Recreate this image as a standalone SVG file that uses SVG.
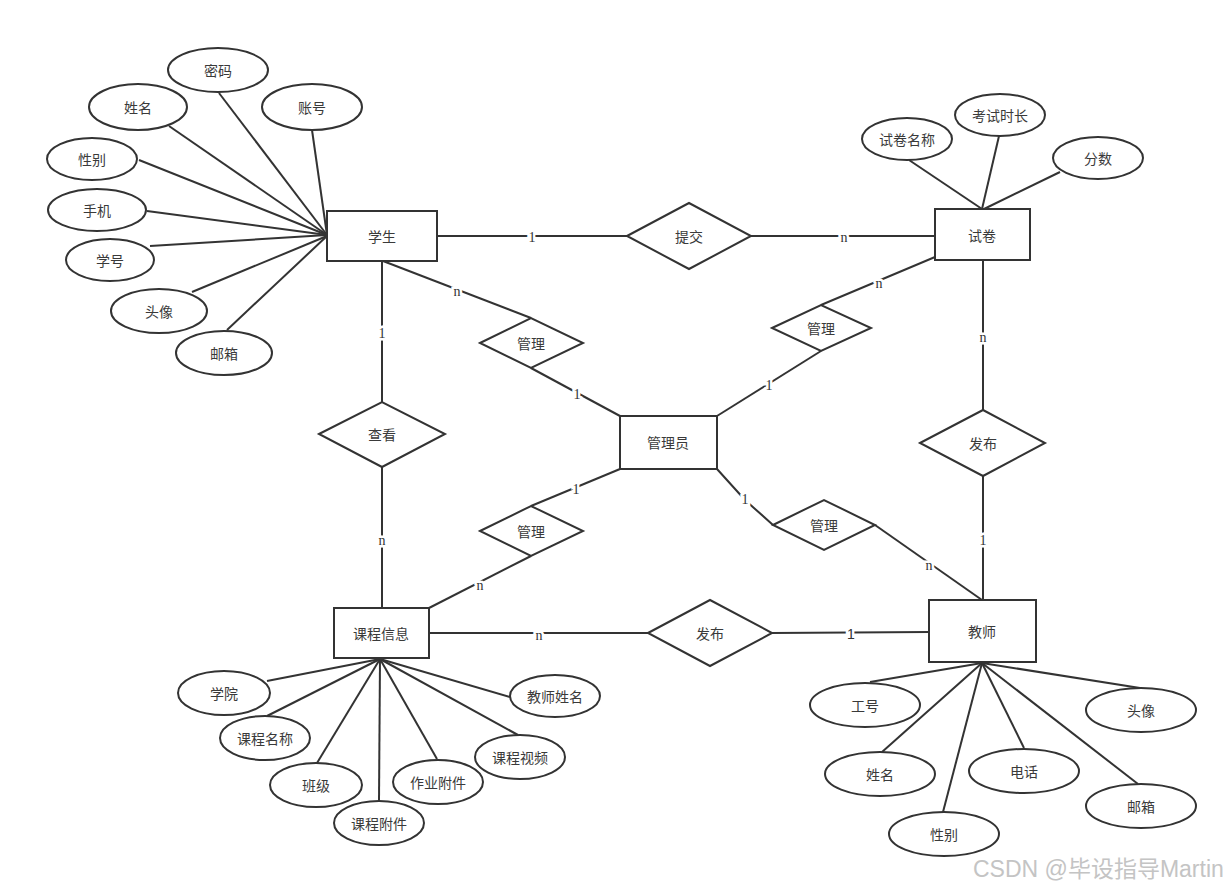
<svg xmlns="http://www.w3.org/2000/svg" width="1228" height="888" viewBox="0 0 1228 888">
<style>
.s{fill:#fff;stroke:#333;stroke-width:2}
.l{stroke:#333;stroke-width:2;fill:none}
.t{font-family:"Noto Sans CJK SC","Liberation Sans",sans-serif;font-size:14px;fill:#3a3a3a;text-anchor:middle;dominant-baseline:central}
.c{font-family:"Liberation Serif",serif;font-size:14px;fill:#333;text-anchor:middle;dominant-baseline:central;stroke:#fff;stroke-width:5;paint-order:stroke}
.c2{font-family:"Liberation Sans",sans-serif;font-size:14px;fill:#333;text-anchor:middle;dominant-baseline:central;stroke:#fff;stroke-width:5;paint-order:stroke}
</style>
<rect width="1228" height="888" fill="#fff"/>
<g id="connectors">
<line class="l" x1="219" y1="93" x2="327" y2="235"/>
<line class="l" x1="169" y1="126" x2="327" y2="235"/>
<line class="l" x1="312" y1="130" x2="327" y2="235"/>
<line class="l" x1="139" y1="160" x2="327" y2="235"/>
<line class="l" x1="147" y1="211" x2="327" y2="235"/>
<line class="l" x1="150" y1="246" x2="327" y2="235"/>
<line class="l" x1="192" y1="292" x2="327" y2="236"/>
<line class="l" x1="227" y1="330" x2="327" y2="236"/>
<line class="l" x1="909" y1="160" x2="982" y2="209"/>
<line class="l" x1="999" y1="136" x2="982" y2="209"/>
<line class="l" x1="1060" y1="172" x2="984" y2="209"/>
<line class="l" x1="267" y1="681" x2="380" y2="659"/>
<line class="l" x1="267" y1="716" x2="380" y2="659"/>
<line class="l" x1="317" y1="763" x2="380" y2="659"/>
<line class="l" x1="379" y1="801" x2="380" y2="659"/>
<line class="l" x1="437" y1="759" x2="380" y2="659"/>
<line class="l" x1="518" y1="735" x2="380" y2="659"/>
<line class="l" x1="510" y1="697" x2="380" y2="659"/>
<line class="l" x1="870" y1="682" x2="982" y2="663"/>
<line class="l" x1="882" y1="752" x2="982" y2="663"/>
<line class="l" x1="943" y1="812" x2="982" y2="663"/>
<line class="l" x1="1024" y1="748" x2="982" y2="663"/>
<line class="l" x1="1138" y1="784" x2="982" y2="663"/>
<line class="l" x1="1140" y1="688" x2="982" y2="663"/>
<line class="l" x1="437" y1="236" x2="627" y2="236"/>
<line class="l" x1="751" y1="236" x2="935" y2="236"/>
<line class="l" x1="383" y1="261" x2="531" y2="318"/>
<line class="l" x1="531" y1="368" x2="620" y2="416"/>
<line class="l" x1="935" y1="257" x2="821" y2="305"/>
<line class="l" x1="821" y1="351" x2="717" y2="416"/>
<line class="l" x1="382" y1="261" x2="382" y2="402"/>
<line class="l" x1="382" y1="467" x2="382" y2="608"/>
<line class="l" x1="983" y1="260" x2="983" y2="410"/>
<line class="l" x1="983" y1="476" x2="983" y2="600"/>
<line class="l" x1="620" y1="469" x2="531" y2="506"/>
<line class="l" x1="531" y1="556" x2="429" y2="608"/>
<polyline class="l" points="717,469 745,500 773,525"/>
<line class="l" x1="875" y1="525" x2="982" y2="600"/>
<line class="l" x1="429" y1="633" x2="648" y2="633"/>
<line class="l" x1="772" y1="633" x2="929" y2="632"/>
<text class="c" x="532" y="237">1</text>
<text class="c" x="844" y="237">n</text>
<text class="c" x="457" y="291">n</text>
<text class="c" x="577" y="394">1</text>
<text class="c" x="879" y="283">n</text>
<text class="c" x="769" y="385">1</text>
<text class="c" x="382" y="333">1</text>
<text class="c" x="382" y="540">n</text>
<text class="c" x="983" y="337">n</text>
<text class="c" x="983" y="540">1</text>
<text class="c" x="576" y="489">1</text>
<text class="c" x="480" y="585">n</text>
<text class="c" x="745" y="499">1</text>
<text class="c" x="929" y="565">n</text>
<text class="c" x="539" y="635">n</text>
<text class="c2" x="851" y="634">1</text>
</g>
<g id="student"><rect class="s" x="327" y="211" width="110" height="50"/><text class="t" x="382" y="236">学生</text></g>
<g id="paper"><rect class="s" x="935" y="209" width="95" height="51"/><text class="t" x="982" y="235">试卷</text></g>
<g id="admin"><rect class="s" x="620" y="416" width="97" height="53"/><text class="t" x="668" y="442">管理员</text></g>
<g id="course"><rect class="s" x="334" y="608" width="95" height="50"/><text class="t" x="381" y="633">课程信息</text></g>
<g id="teacher"><rect class="s" x="929" y="600" width="107" height="62"/><text class="t" x="982" y="631">教师</text></g>
<g id="submit"><polygon class="s" points="627,236 689,203 751,236 689,269"/><text class="t" x="689" y="236">提交</text></g>
<g id="manage-student"><polygon class="s" points="480,343 531,318 583,343 531,368"/><text class="t" x="531" y="343">管理</text></g>
<g id="manage-paper"><polygon class="s" points="772,328 821,305 871,328 821,351"/><text class="t" x="821" y="328">管理</text></g>
<g id="view"><polygon class="s" points="319,434 382,402 445,434 382,467"/><text class="t" x="382" y="434">查看</text></g>
<g id="publish-paper"><polygon class="s" points="920,443 983,410 1045,443 983,476"/><text class="t" x="983" y="443">发布</text></g>
<g id="manage-course"><polygon class="s" points="480,531 531,506 583,531 531,556"/><text class="t" x="531" y="531">管理</text></g>
<g id="manage-teacher"><polygon class="s" points="773,525 824,500 875,525 824,550"/><text class="t" x="824" y="525">管理</text></g>
<g id="publish-course"><polygon class="s" points="648,633 710,600 772,633 710,666"/><text class="t" x="710" y="633">发布</text></g>
<g id="s-pwd"><ellipse class="s" cx="218" cy="70" rx="50" ry="22"/><text class="t" x="218" y="70">密码</text></g>
<g id="s-name"><ellipse class="s" cx="138" cy="107" rx="49" ry="23"/><text class="t" x="138" y="107">姓名</text></g>
<g id="s-acc"><ellipse class="s" cx="312" cy="107" rx="50" ry="23"/><text class="t" x="312" y="107">账号</text></g>
<g id="s-sex"><ellipse class="s" cx="92" cy="159" rx="45" ry="21"/><text class="t" x="92" y="159">性别</text></g>
<g id="s-phone"><ellipse class="s" cx="97" cy="210" rx="49" ry="21"/><text class="t" x="97" y="210">手机</text></g>
<g id="s-no"><ellipse class="s" cx="110" cy="260" rx="44" ry="21"/><text class="t" x="110" y="260">学号</text></g>
<g id="s-avatar"><ellipse class="s" cx="159" cy="311" rx="48" ry="22"/><text class="t" x="159" y="311">头像</text></g>
<g id="s-mail"><ellipse class="s" cx="224" cy="353" rx="48" ry="22"/><text class="t" x="224" y="353">邮箱</text></g>
<g id="p-name"><ellipse class="s" cx="907" cy="139" rx="45" ry="21"/><text class="t" x="907" y="139">试卷名称</text></g>
<g id="p-time"><ellipse class="s" cx="1000" cy="115" rx="45" ry="21"/><text class="t" x="1000" y="115">考试时长</text></g>
<g id="p-score"><ellipse class="s" cx="1098" cy="158" rx="45" ry="21"/><text class="t" x="1098" y="158">分数</text></g>
<g id="c-college"><ellipse class="s" cx="224" cy="693" rx="46" ry="22"/><text class="t" x="224" y="693">学院</text></g>
<g id="c-name"><ellipse class="s" cx="265" cy="738" rx="45" ry="22"/><text class="t" x="265" y="738">课程名称</text></g>
<g id="c-class"><ellipse class="s" cx="316" cy="785" rx="46" ry="22"/><text class="t" x="316" y="785">班级</text></g>
<g id="c-attach"><ellipse class="s" cx="379" cy="823" rx="45" ry="22"/><text class="t" x="379" y="823">课程附件</text></g>
<g id="c-hw"><ellipse class="s" cx="438" cy="782" rx="45" ry="22"/><text class="t" x="438" y="782">作业附件</text></g>
<g id="c-video"><ellipse class="s" cx="520" cy="757" rx="45" ry="22"/><text class="t" x="520" y="757">课程视频</text></g>
<g id="c-teacher"><ellipse class="s" cx="555" cy="696" rx="45" ry="21"/><text class="t" x="555" y="696">教师姓名</text></g>
<g id="t-no"><ellipse class="s" cx="865" cy="705" rx="55" ry="22"/><text class="t" x="865" y="705">工号</text></g>
<g id="t-name"><ellipse class="s" cx="880" cy="774" rx="55" ry="22"/><text class="t" x="880" y="774">姓名</text></g>
<g id="t-sex"><ellipse class="s" cx="944" cy="834" rx="55" ry="22"/><text class="t" x="944" y="834">性别</text></g>
<g id="t-tel"><ellipse class="s" cx="1024" cy="771" rx="55" ry="22"/><text class="t" x="1024" y="771">电话</text></g>
<g id="t-mail"><ellipse class="s" cx="1141" cy="806" rx="55" ry="22"/><text class="t" x="1141" y="806">邮箱</text></g>
<g id="t-avatar"><ellipse class="s" cx="1141" cy="710" rx="55" ry="22"/><text class="t" x="1141" y="710">头像</text></g>
<text x="973" y="877" font-family="'Liberation Sans','Noto Sans CJK SC',sans-serif" font-size="23" fill="#c4c4c4">CSDN @毕设指导Martin</text>
</svg>
